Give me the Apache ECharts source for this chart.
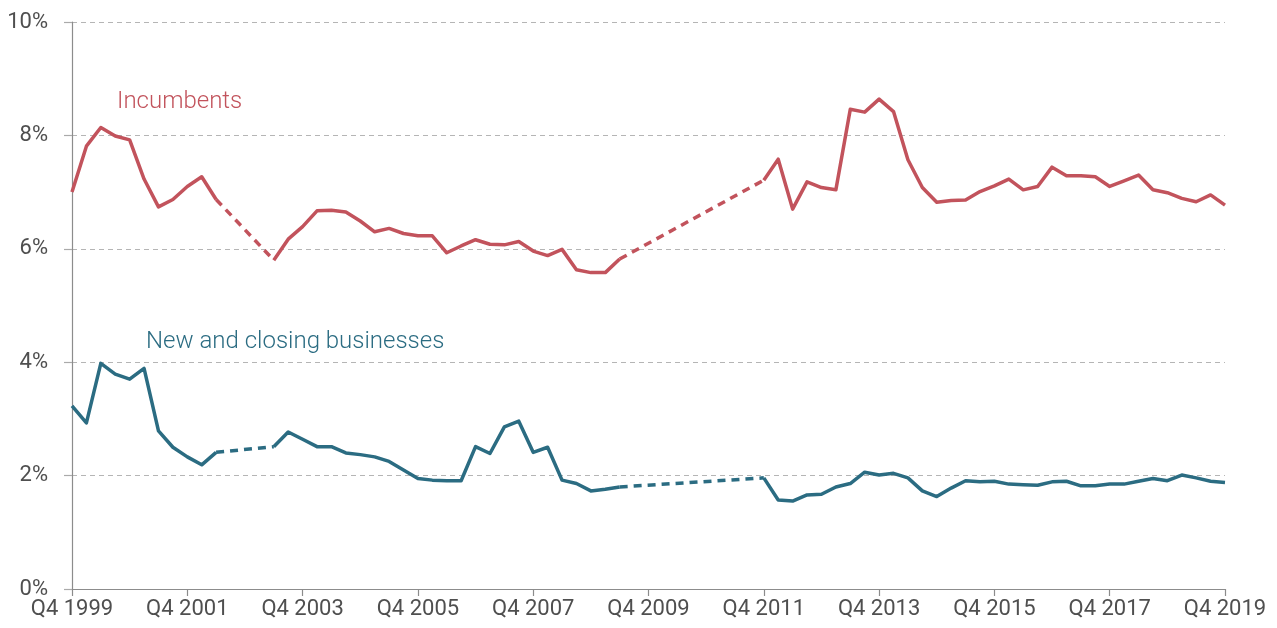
<!DOCTYPE html>
<html>
<head>
<meta charset="utf-8">
<title>Incumbents vs new and closing businesses</title>
<script src="https://cdn.jsdelivr.net/npm/echarts@6/dist/echarts.min.js"></script>
<style>
	html, body { margin: 0; padding: 0; background: #fff; }
	#chart { width: 1277px; height: 628px; }
</style>
</head>
<body>
<div id="chart"></div>
<script>
// quarters Q4 1999 .. Q4 2019
var quarters = [];
quarters.push('Q4 1999');
for (var y = 2000; y <= 2019; y++) {
	for (var q = 1; q <= 4; q++) {
		quarters.push('Q' + q + ' ' + y);
	}
}

// 在位企业
var incumbents = [
	7.00, 7.81, 8.14, 7.99, 7.92, 7.23, 6.74, 6.87, 7.10, 7.27, 6.87,
	null, null, null,
	5.80, 6.17, 6.39, 6.67, 6.68, 6.65, 6.49, 6.30, 6.36, 6.27, 6.23, 6.23, 5.93,
	6.05, 6.16, 6.08, 6.07, 6.13, 5.96, 5.88, 5.99, 5.63, 5.58, 5.58, 5.82,
	null, null, null, null, null, null, null, null, null,
	7.21, 7.58, 6.70, 7.18, 7.08, 7.04, 8.46, 8.41, 8.64, 8.42, 7.57, 7.08, 6.82,
	6.85, 6.86, 7.01, 7.11, 7.23, 7.04, 7.10, 7.44, 7.29, 7.29, 7.27, 7.10, 7.20,
	7.30, 7.04, 6.99, 6.89, 6.83, 6.95, 6.77
];

// 新设与关闭企业
var newClosing = [
	3.23, 2.93, 3.98, 3.79, 3.70, 3.89, 2.79, 2.50, 2.33, 2.19, 2.41,
	null, null, null,
	2.51, 2.77, 2.64, 2.51, 2.51, 2.40, 2.37, 2.33, 2.25, 2.10, 1.95, 1.92, 1.91,
	1.91, 2.51, 2.39, 2.86, 2.96, 2.41, 2.50, 1.92, 1.86, 1.73, 1.76, 1.80,
	null, null, null, null, null, null, null, null, null,
	1.96, 1.57, 1.55, 1.66, 1.67, 1.80, 1.86, 2.06, 2.01, 2.04, 1.96, 1.73, 1.63,
	1.78, 1.91, 1.89, 1.90, 1.85, 1.84, 1.83, 1.89, 1.90, 1.82, 1.82, 1.85, 1.85,
	1.90, 1.95, 1.91, 2.01, 1.96, 1.90, 1.88
];

var yTicks = [0, 2, 4, 6, 8, 10];

var redColor = '#c2535c';
var blueColor = '#2b6c82';
var axisColor = '#8c8c8c';
var textColor = '#4f4f4f';
var fontName = 'Roboto';

// 缺失区间用虚线连接
function gapSeries(values, color) {
	var list = [];
	for (var i = 1; i < values.length; i++) {
		if (values[i] === null && values[i - 1] !== null) {
			var j = i;
			while (j < values.length && values[j] === null) j++;
			if (j >= values.length) break;
			var arr = values.map(function() { return null; });
			arr[i - 1] = values[i - 1];
			arr[j] = values[j];
			list.push({
				type: 'line',
				data: arr,
				connectNulls: true,
				showSymbol: false,
				silent: true,
				lineStyle: { color: color, width: 3.5, type: [8, 6], cap: 'butt' }
			});
			i = j;
		}
	}
	return list;
}

function solidSeries(values, color) {
	return {
		type: 'line',
		data: values,
		showSymbol: false,
		connectNulls: false,
		lineStyle: { color: color, width: 3.5, join: 'round' }
	};
}

var chart = echarts.init(document.getElementById('chart'), null, { renderer: 'canvas' });

var option = {
	animation: false,
	backgroundColor: '#fff',
	grid: { left: 72, right: 52, top: 22, bottom: 39, containLabel: false },
	xAxis: {
		type: 'category',
		data: quarters,
		boundaryGap: false,
		axisLine: { show: true, lineStyle: { color: axisColor, width: 1.2 } },
		axisTick: { show: true, interval: 7, length: 7, lineStyle: { color: axisColor, width: 1.2 } },
		axisLabel: {
			interval: 7,
			margin: 9,
			color: textColor,
			fontFamily: fontName,
			fontSize: 22,
			showMaxLabel: true
		},
		splitLine: { show: false }
	},
	yAxis: {
		type: 'value',
		min: yTicks[0],
		max: yTicks[yTicks.length - 1],
		interval: 2,
		axisLine: { show: true, lineStyle: { color: axisColor, width: 1.2 } },
		axisTick: { show: true, length: 8, lineStyle: { color: '#aaaaaa', width: 1.2 } },
		axisLabel: {
			margin: 24,
			color: textColor,
			fontFamily: fontName,
			fontSize: 22,
			padding: [0, 0, 5, 0],
			formatter: function(v) { return v + '%'; }
		},
		splitLine: { show: true, lineStyle: { color: '#b5b5b5', width: 1.2, type: [5, 4] } }
	},
	graphic: [
		{
			type: 'text',
			left: 117, top: 90,
			style: { text: 'Incumbents', fill: redColor, font: '300 24px ' + fontName }
		},
		{
			type: 'text',
			left: 146, top: 330,
			style: { text: 'New and closing businesses', fill: blueColor, font: '300 24px ' + fontName }
		}
	],
	series: [solidSeries(incumbents, redColor), solidSeries(newClosing, blueColor)]
		.concat(gapSeries(incumbents, redColor))
		.concat(gapSeries(newClosing, blueColor))
};

chart.setOption(option);
</script>
</body>
</html>
